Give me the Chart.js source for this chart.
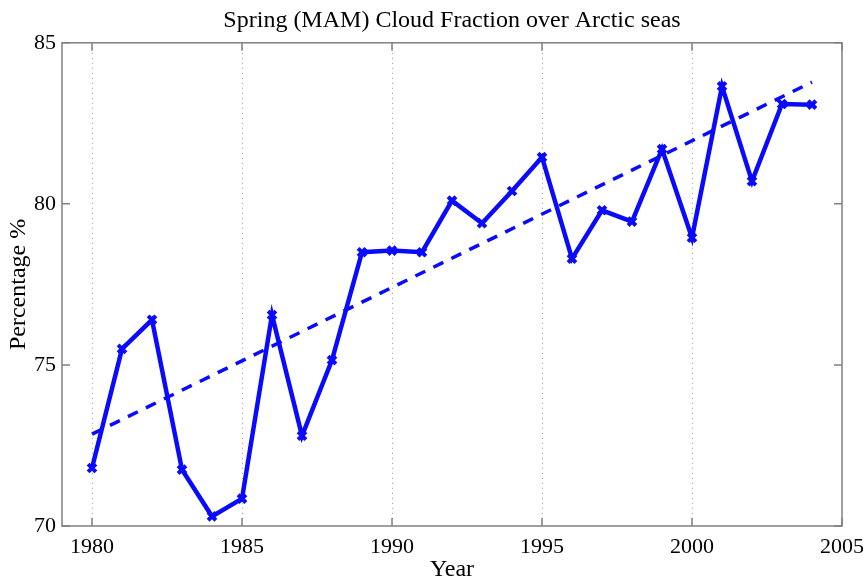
<!DOCTYPE html>
<html>
<head>
<meta charset="utf-8">
<script src="https://cdn.jsdelivr.net/npm/chart.js@4/dist/chart.umd.min.js"></script>
<style>
  html, body { margin: 0; padding: 0; background: #fff; }
  #wrap { width: 864px; height: 577px; }
</style>
</head>
<body>
<div id="wrap"><canvas id="chart"></canvas></div>
<script>
const years = [1980, 1981, 1982, 1983, 1984, 1985, 1986, 1987, 1988, 1989, 1990, 1991, 1992,
               1993, 1994, 1995, 1996, 1997, 1998, 1999, 2000, 2001, 2002, 2003, 2004];
const cloudFraction = [71.8, 75.5, 76.4, 71.75, 70.3, 70.85, 76.55, 72.8, 75.15, 78.5, 78.55, 78.5, 80.1,
                       79.4, 80.4, 81.45, 78.3, 79.8, 79.45, 81.7, 78.95, 83.65, 80.7, 83.1, 83.08];
const trendYears = [1980, 2004];
const trendValues = [72.85, 83.78];
const xTicks = [1980, 1985, 1990, 1995, 2000, 2005];
const yTicks = [70, 75, 80, 85];

const BLUE = '#0a0aff';
const AXIS = '#808080';
const GRID = '#9a9a9a';
const FONT = "'Liberation Serif', 'Times New Roman', serif";

// MATLAB-style box with inward ticks on every side
const boxPlugin = {
  id: 'box',
  afterDraw(chart) {
    const { ctx, chartArea: a, scales } = chart;
    ctx.save();
    ctx.strokeStyle = AXIS;
    ctx.lineWidth = 1.5;
    ctx.strokeRect(a.left, a.top, a.right - a.left, a.bottom - a.top);
    ctx.beginPath();
    xTicks.forEach(v => {
      const x = scales.x.getPixelForValue(v);
      ctx.moveTo(x, a.bottom); ctx.lineTo(x, a.bottom - 8);
      ctx.moveTo(x, a.top); ctx.lineTo(x, a.top + 8);
    });
    yTicks.forEach(v => {
      const y = scales.y.getPixelForValue(v);
      ctx.moveTo(a.left, y); ctx.lineTo(a.left + 8, y);
      ctx.moveTo(a.right, y); ctx.lineTo(a.right - 8, y);
    });
    ctx.stroke();
    ctx.restore();
  }
};

new Chart(document.getElementById('chart'), {
  type: 'line',
  data: {
    datasets: [
      {
        label: 'Cloud fraction',
        data: years.map((y, i) => ({ x: y, y: cloudFraction[i] })),
        borderColor: BLUE, backgroundColor: BLUE,
        borderWidth: 4.5, tension: 0,
        pointStyle: 'crossRot', pointRadius: 5.5, pointBorderWidth: 4,
        pointBorderColor: BLUE, order: 1
      },
      {
        label: 'Trend',
        data: trendYears.map((y, i) => ({ x: y, y: trendValues[i] })),
        borderColor: BLUE, borderWidth: 3.5, borderDash: [11, 9],
        pointRadius: 0, tension: 0, order: 2
      }
    ]
  },
  options: {
    responsive: true,
    maintainAspectRatio: false,
    animation: false,
    layout: { padding: { left: 0, right: 22, top: 0, bottom: 0 } },
    plugins: {
      legend: { display: false },
      tooltip: { enabled: false },
      title: {
        display: true,
        fullSize: false,
        text: 'Spring (MAM) Cloud Fraction over Arctic seas',
        color: '#000',
        font: { family: FONT, size: 24, weight: 'normal' },
        padding: { top: 6, bottom: 8 }
      }
    },
    scales: {
      x: {
        type: 'linear', min: 1979, max: 2005,
        afterBuildTicks: (s) => { s.ticks = xTicks.map(v => ({ value: v })); },
        afterFit: (s) => { s.height = 51; s.paddingRight = 0; s.paddingLeft = 0; },
        grid: {
          drawTicks: false,
          color: (c) => (c.tick && c.tick.value === 2005 ? 'rgba(0,0,0,0)' : GRID),
          lineWidth: 1
        },
        border: { display: false, dash: [1, 4] },
        ticks: { color: '#000', padding: 8, maxRotation: 0, font: { family: FONT, size: 22 }, callback: (v) => String(v) },
        title: { display: true, text: 'Year', color: '#000', font: { family: FONT, size: 24 }, padding: { top: -7, bottom: -7 } }
      },
      y: {
        min: 70, max: 85,
        afterBuildTicks: (s) => { s.ticks = yTicks.map(v => ({ value: v })); },
        afterFit: (s) => { s.width = 62; },
        grid: { display: false, drawTicks: false },
        border: { display: false },
        ticks: { color: '#000', padding: 6, font: { family: FONT, size: 22 } },
        title: { display: true, text: 'Percentage %', color: '#000', font: { family: FONT, size: 24 }, padding: { top: 4, bottom: 0 } }
      }
    }
  },
  plugins: [boxPlugin]
});
</script>
</body>
</html>
